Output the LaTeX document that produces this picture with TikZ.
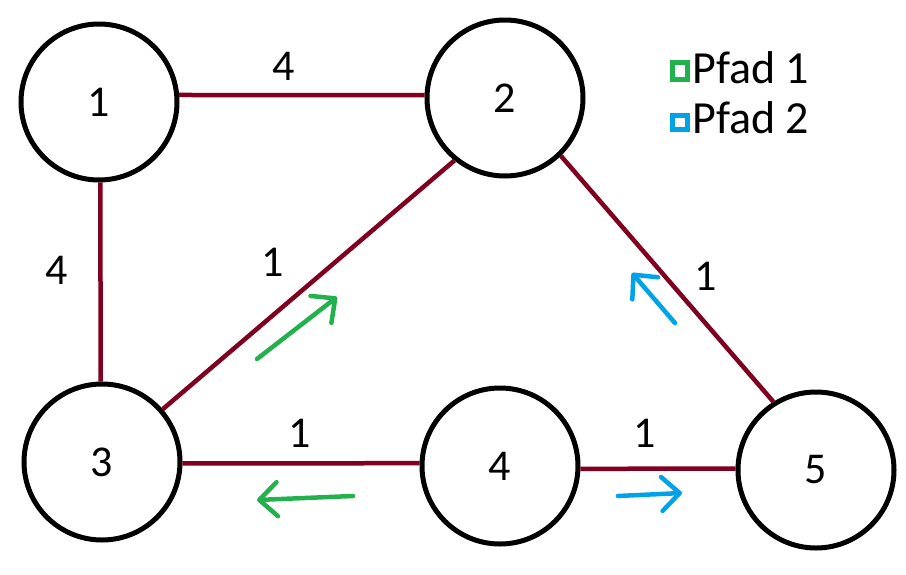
\documentclass[tikz,border=0pt]{standalone}
\usepackage{fontspec}
\setmainfont{Carlito}
\usetikzlibrary{arrows.meta}
\definecolor{edgered}{RGB}{128,0,32}
\definecolor{pathgreen}{RGB}{34,177,76}
\definecolor{pathblue}{RGB}{0,162,232}
\tikzset{
  vertex/.style={circle, draw=black, fill=white, line width=5pt,
    minimum size=156pt, inner sep=0pt, font=\fontsize{44}{44}\selectfont},
  edge/.style={draw=edgered, line width=4.5pt},
  weight/.style={inner sep=0pt, font=\fontsize{44}{44}\selectfont},
  hint/.style={line width=4.5pt, line cap=round, line join=round,
    -{Straight Barb[length=18pt,width=34pt,line cap=round,line join=round]}},
  legendbox/.style={line width=5pt},
  legendtext/.style={anchor=base west, inner sep=0pt, font=\fontsize{46}{46}\selectfont}
}
\begin{document}
\begin{tikzpicture}[x=1pt, y=-1pt]
\useasboundingbox (0,0) rectangle (906,574);

% vertices
\node[vertex] (n1) at (99,102) {1};
\node[vertex] (n2) at (505,98) {2};
\node[vertex] (n3) at (102,462) {3};
\node[vertex] (n4) at (500,466) {4};
\node[vertex] (n5) at (816,470) {5};

% weighted edges
\draw[edge] (n1.5) -- (n2.178);
\draw[edge] (n1.271) -- (n3.91);
\draw[edge] (n2.231) -- (n3.41);
\draw[edge] (n2.314) -- (n5.122);
\draw[edge] (n3.359) -- (n4.178);
\draw[edge] (n4.358) -- (n5.179);

% edge weights
\node[weight] (w12) at (284,66) {4};
\node[weight] (w13) at (57,270) {4};
\node[weight] (w23) at (273,262) {1};
\node[weight] (w25) at (706,276) {1};
\node[weight] (w34) at (300,433) {1};
\node[weight] (w45) at (645,433) {1};

% direction hints for the two paths
\coordinate (g1s) at (257,359); \coordinate (g1e) at (337,297);
\coordinate (g2s) at (353,496); \coordinate (g2e) at (257,500);
\coordinate (b1s) at (618,496); \coordinate (b1e) at (682,493);
\coordinate (b2s) at (675,323); \coordinate (b2e) at (632,273);
\draw[hint, pathgreen] (g1s) -- (g1e);
\draw[hint, pathgreen] (g2s) -- (g2e);
\draw[hint, pathblue] (b1s) -- (b1e);
\draw[hint, pathblue] (b2s) -- (b2e);

% legend
\draw[legendbox, pathgreen] (672.5,62.5) rectangle (687.5,79.5);
\draw[legendbox, pathblue] (672.5,115.5) rectangle (687.5,129.5);
\node[legendtext] (l1) at (692,83) {Pfad 1};
\node[legendtext] (l2) at (692,133) {Pfad 2};
\end{tikzpicture}
\end{document}
